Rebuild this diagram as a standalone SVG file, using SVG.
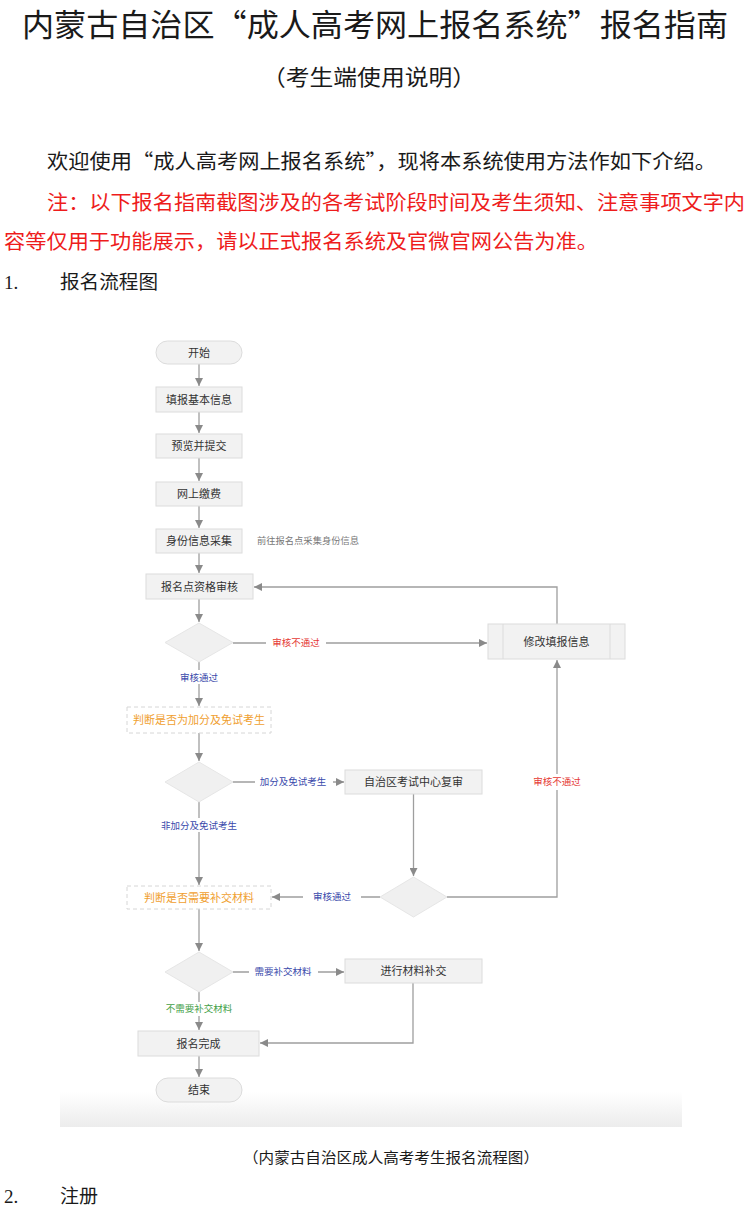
<svg xmlns="http://www.w3.org/2000/svg" width="750" height="1210" viewBox="0 0 750 1210">
<style>
.cjk{font-family:"Noto Sans CJK SC","Noto Sans",sans-serif}
.doc{fill:#1a1a1a}
.red{fill:#ee1c1c}
.box{fill:#f2f2f2;stroke:#dcdcdc;stroke-width:1}
.dia{fill:#f0f0f0;stroke:#e6e6e6;stroke-width:1}
.dash{fill:#ffffff;stroke:#d6d6d6;stroke-width:1;stroke-dasharray:4 3}
.nt{font-family:"Noto Sans CJK SC",sans-serif;font-size:11px;fill:#333;text-anchor:middle}
.lbl{font-family:"Noto Sans CJK SC",sans-serif;font-size:9.5px;text-anchor:middle}
.ln{fill:none;stroke:#9e9e9e;stroke-width:1.3}
.bg{fill:#ffffff}
</style>
<defs>
<marker id="ah" viewBox="0 0 10 10" refX="10" refY="5" markerWidth="8" markerHeight="8" markerUnits="userSpaceOnUse" orient="auto">
<path d="M0,0 L10,5 L0,10 z" fill="#8a8a8a"/>
</marker>
<linearGradient id="fade" x1="0" y1="0" x2="0" y2="1">
<stop offset="0" stop-color="#ffffff"/>
<stop offset="1" stop-color="#ececec"/>
</linearGradient>
</defs>
<rect width="750" height="1210" fill="#ffffff"/>

<g id="document-text" class="cjk">
<text class="doc" x="22" y="36" font-size="31" textLength="706" lengthAdjust="spacingAndGlyphs">内蒙古自治区“成人高考网上报名系统”报名指南</text>
<text class="doc" x="262" y="85" font-size="22" textLength="214" lengthAdjust="spacingAndGlyphs">（考生端使用说明）</text>
<text class="doc" x="47" y="169" font-size="20" textLength="669" lengthAdjust="spacingAndGlyphs">欢迎使用“成人高考网上报名系统”，现将本系统使用方法作如下介绍。</text>
<text class="red" x="47" y="210" font-size="20" textLength="698" lengthAdjust="spacingAndGlyphs">注：以下报名指南截图涉及的各考试阶段时间及考生须知、注意事项文字内</text>
<text class="red" x="4" y="249" font-size="20" textLength="594" lengthAdjust="spacingAndGlyphs">容等仅用于功能展示，请以正式报名系统及官微官网公告为准。</text>
<text class="doc" x="4" y="289" font-size="19" font-family="Liberation Serif, serif">1.</text>
<text class="doc" x="60" y="289" font-size="19" textLength="98" lengthAdjust="spacingAndGlyphs">报名流程图</text>
<text class="doc" x="243" y="1163" font-size="15" textLength="296" lengthAdjust="spacingAndGlyphs">（内蒙古自治区成人高考考生报名流程图）</text>
<text class="doc" x="4" y="1203" font-size="19" font-family="Liberation Serif, serif">2.</text>
<text class="doc" x="60" y="1203" font-size="19" textLength="38" lengthAdjust="spacingAndGlyphs">注册</text>
</g>

<rect id="chart-bottom-fade" x="60" y="1092" width="622" height="35" fill="url(#fade)"/>

<g id="connectors">
<path class="ln" d="M199,364 V386" marker-end="url(#ah)"/>
<path class="ln" d="M199,412 V433" marker-end="url(#ah)"/>
<path class="ln" d="M199,458 V481" marker-end="url(#ah)"/>
<path class="ln" d="M199,506 V528" marker-end="url(#ah)"/>
<path class="ln" d="M199,553 V573" marker-end="url(#ah)"/>
<path class="ln" d="M199,599 V622" marker-end="url(#ah)"/>
<path class="ln" d="M233,643 H487" marker-end="url(#ah)"/>
<rect class="bg" x="266" y="635" width="60" height="15"/>
<text class="lbl" x="296" y="646" fill="#e53935">审核不通过</text>
<path class="ln" d="M199,662 V706" marker-end="url(#ah)"/>
<rect class="bg" x="175" y="670" width="48" height="14"/>
<text class="lbl" x="199" y="681" fill="#3949ab">审核通过</text>
<path class="ln" d="M557,624 V587 H254" marker-end="url(#ah)"/>
<path class="ln" d="M199,733 V761" marker-end="url(#ah)"/>
<path class="ln" d="M233,782 H344" marker-end="url(#ah)"/>
<rect class="bg" x="255" y="775" width="78" height="15"/>
<text class="lbl" x="293" y="785" fill="#3949ab">加分及免试考生</text>
<path class="ln" d="M199,802 V885" marker-end="url(#ah)"/>
<rect class="bg" x="158" y="818" width="82" height="14"/>
<text class="lbl" x="199" y="829" fill="#3949ab">非加分及免试考生</text>
<path class="ln" d="M413.5,794 V876" marker-end="url(#ah)"/>
<path class="ln" d="M380,897 H272" marker-end="url(#ah)"/>
<rect class="bg" x="303" y="890" width="58" height="15"/>
<text class="lbl" x="332" y="900" fill="#3949ab">审核通过</text>
<path class="ln" d="M447,897 H557 V660" marker-end="url(#ah)"/>
<rect class="bg" x="530" y="774" width="54" height="16"/>
<text class="lbl" x="557" y="785" fill="#e53935">审核不通过</text>
<path class="ln" d="M199,909 V951" marker-end="url(#ah)"/>
<path class="ln" d="M233,972 H344" marker-end="url(#ah)"/>
<rect class="bg" x="249" y="965" width="69" height="15"/>
<text class="lbl" x="283" y="975" fill="#3949ab">需要补交材料</text>
<path class="ln" d="M199,992 V1030" marker-end="url(#ah)"/>
<rect class="bg" x="163" y="1002" width="72" height="14"/>
<text class="lbl" x="199" y="1012" fill="#43a047">不需要补交材料</text>
<path class="ln" d="M413,983 V1043 H260" marker-end="url(#ah)"/>
<path class="ln" d="M199,1056 V1077" marker-end="url(#ah)"/>
</g>

<g id="node-start">
<rect class="box" x="156" y="341" width="86" height="23" rx="11.5"/>
<text class="nt" x="199" y="356.5">开始</text>
</g>
<g id="node-fill-info">
<rect class="box" x="156" y="387" width="86" height="25"/>
<text class="nt" x="199" y="403.5">填报基本信息</text>
</g>
<g id="node-preview">
<rect class="box" x="156" y="434" width="86" height="24"/>
<text class="nt" x="199" y="450">预览并提交</text>
</g>
<g id="node-pay">
<rect class="box" x="156" y="482" width="86" height="24"/>
<text class="nt" x="199" y="498">网上缴费</text>
</g>
<g id="node-identity">
<rect class="box" x="156" y="529" width="86" height="24"/>
<text class="nt" x="199" y="545">身份信息采集</text>
<text x="257" y="544" font-family="Noto Sans CJK SC, sans-serif" font-size="9" fill="#777" textLength="102" lengthAdjust="spacingAndGlyphs">前往报名点采集身份信息</text>
</g>
<g id="node-site-review">
<rect class="box" x="146" y="574" width="107" height="25"/>
<text class="nt" x="199.5" y="590.5">报名点资格审核</text>
</g>
<g id="node-decision-1">
<polygon class="dia" points="199,623 233,642.5 199,662 165,642.5"/>
</g>
<g id="node-modify">
<rect class="box" x="488" y="624" width="137" height="35"/>
<line x1="503" y1="624" x2="503" y2="659" stroke="#dcdcdc"/>
<line x1="610" y1="624" x2="610" y2="659" stroke="#dcdcdc"/>
<text class="nt" x="556.5" y="645.5">修改填报信息</text>
</g>
<g id="node-judge-bonus">
<rect class="dash" x="127" y="707" width="144" height="26"/>
<text class="nt" x="199" y="724" fill="#f0a030" style="fill:#f0a030">判断是否为加分及免试考生</text>
</g>
<g id="node-decision-2">
<polygon class="dia" points="199,762 233,782 199,802 165,782"/>
</g>
<g id="node-recheck">
<rect class="box" x="345" y="770" width="137" height="24"/>
<text class="nt" x="413.5" y="786">自治区考试中心复审</text>
</g>
<g id="node-decision-3">
<polygon class="dia" points="413.5,877 447,897 413.5,917 380,897"/>
</g>
<g id="node-judge-material">
<rect class="dash" x="127" y="886" width="144" height="23"/>
<text class="nt" x="199" y="901.5" style="fill:#f0a030">判断是否需要补交材料</text>
</g>
<g id="node-decision-4">
<polygon class="dia" points="199,952 233,972 199,992 165,972"/>
</g>
<g id="node-supplement">
<rect class="box" x="345" y="959" width="137" height="24"/>
<text class="nt" x="413.5" y="975">进行材料补交</text>
</g>
<g id="node-complete">
<rect class="box" x="138" y="1031" width="121" height="25"/>
<text class="nt" x="198.5" y="1047.5">报名完成</text>
</g>
<g id="node-end">
<rect class="box" x="156" y="1078" width="86" height="24" rx="12"/>
<text class="nt" x="199" y="1094">结束</text>
</g>
</svg>
